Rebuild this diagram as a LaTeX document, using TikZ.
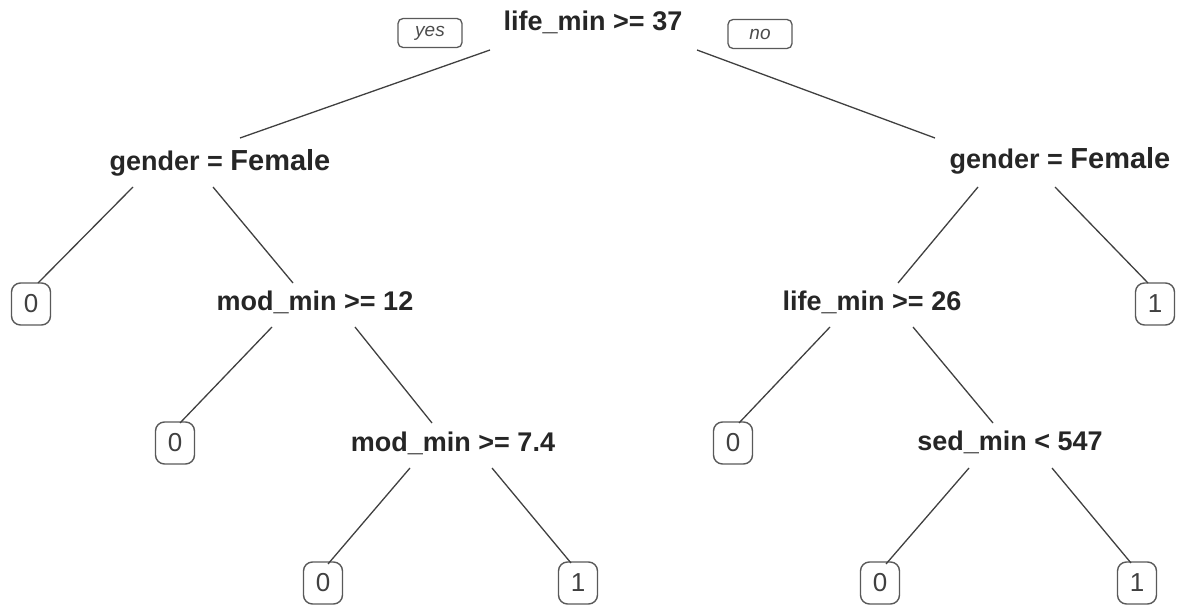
\documentclass[tikz,border=0pt]{standalone}
\usepackage{fontspec}
\setmainfont{Liberation Sans}
\usetikzlibrary{calc}
\tikzset{
  splitlab/.style={inner sep=0pt, text=black!85, font=\bfseries\fontsize{27bp}{31bp}\selectfont},
  leafbox/.style={draw=black!65, line width=1.4bp, rounded corners=9bp, minimum width=39bp, minimum height=42bp, inner sep=0pt, text=black!75, font=\fontsize{26bp}{30bp}\selectfont},
  ynbox/.style={draw=black!65, line width=1.3bp, rounded corners=5bp, minimum width=64bp, minimum height=29bp, inner sep=0pt, text=black!70, font=\itshape\fontsize{19bp}{22bp}\selectfont},
  branch/.style={draw=black!75, line width=1.3bp}
}
\newcommand{\fem}{{\fontsize{29bp}{33bp}\selectfont Female}}
\begin{document}
\begin{tikzpicture}[x=1bp,y=-1bp]
\useasboundingbox (0,0) rectangle (1184,612);
% split nodes
\node[splitlab] (root) at (593,22) {life\_min >= 37};
\node[ynbox] (yes) at (430,33) {yes};
\node[ynbox] (no) at (760,34) {no};
\node[splitlab] (lg) at (220,163) {gender = \fem};
\node[splitlab] (rg) at (1060,161) {gender = \fem};
\node[splitlab] (m12) at (315,302) {mod\_min >= 12};
\node[splitlab] (l26) at (872,302) {life\_min >= 26};
\node[splitlab] (m74) at (453,443) {mod\_min >= 7.4};
\node[splitlab] (sed) at (1010,442) {sed\_min < 547};
% leaves
\node[leafbox] (a) at (31,304) {0};
\node[leafbox] (b) at (1155,304) {1};
\node[leafbox] (c) at (175,443) {0};
\node[leafbox] (d) at (733,443) {0};
\node[leafbox] (e) at (323,583) {0};
\node[leafbox] (f) at (578,583) {1};
\node[leafbox] (g) at (880,583) {0};
\node[leafbox] (h) at (1137,583) {1};
% branches
\draw[branch] ($(root)+(-103,28)$) -- ($(lg)+(20,-25)$);
\draw[branch] ($(root)+(104,28)$) -- ($(rg)+(-125,-23)$);
\draw[branch] ($(lg)+(-87,24)$) -- ($(a)+(7,-21)$);
\draw[branch] ($(lg)+(-7,24)$) -- ($(m12)+(-22,-19)$);
\draw[branch] ($(m12)+(-43,25)$) -- ($(c)+(5,-20)$);
\draw[branch] ($(m12)+(40,25)$) -- ($(m74)+(-21,-20)$);
\draw[branch] ($(m74)+(-43,25)$) -- ($(e)+(5,-19)$);
\draw[branch] ($(m74)+(39,25)$) -- ($(f)+(-7,-20)$);
\draw[branch] ($(rg)+(-82,26)$) -- ($(l26)+(26,-19)$);
\draw[branch] ($(rg)+(-5,26)$) -- ($(b)+(-7,-21)$);
\draw[branch] ($(l26)+(-42,25)$) -- ($(d)+(6,-20)$);
\draw[branch] ($(l26)+(41,25)$) -- ($(sed)+(-17,-19)$);
\draw[branch] ($(sed)+(-41,26)$) -- ($(g)+(6,-19)$);
\draw[branch] ($(sed)+(42,26)$) -- ($(h)+(-6,-20)$);
\end{tikzpicture}
\end{document}
